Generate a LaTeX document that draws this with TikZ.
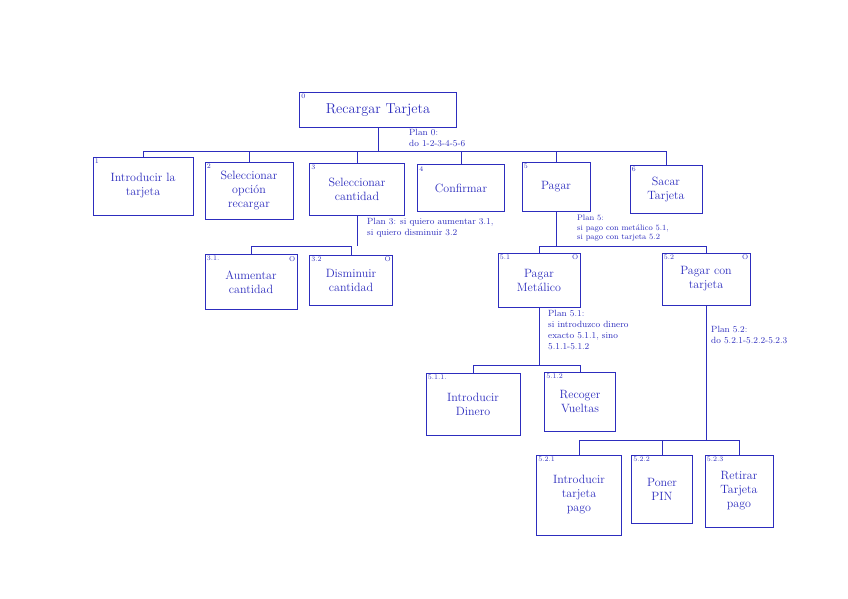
\documentclass[tikz,border=0pt]{standalone}
\usetikzlibrary{positioning}
\definecolor{ink}{RGB}{45,45,190}
\tikzset{
    task/.style = {rectangle, thick, draw=ink, text=ink, align=center, font=\large, inner sep=2pt},
    plan/.style = {anchor=north west, text=ink, align=left, font=\small, inner sep=1pt},
    link/.style = {thick, color=ink},
    num/.style = {anchor=north west, text=ink, font=\scriptsize, inner sep=2pt},
    opt/.style = {anchor=north east, text=ink, font=\scriptsize, inner sep=2pt}
}
\begin{document}
\begin{tikzpicture}[x=1pt,y=-1pt]
\path[fill=white,use as bounding box] (0,0) rectangle (848,599);
%
\node[task, font=\Large, minimum width=157, minimum height=35, label={[num]north west:0}] at (378,110) (n0) {Recargar Tarjeta};
\node[task, minimum width=100, minimum height=58, label={[num]north west:1}] at (143,186) (n1) {Introducir la\\tarjeta};
\node[task, minimum width=88, minimum height=57, label={[num]north west:2}] at (249,191) (n2) {Seleccionar\\opción\\recargar};
\node[task, minimum width=95, minimum height=52, label={[num]north west:3}] at (357,189) (n3) {Seleccionar\\cantidad};
\node[task, minimum width=87, minimum height=47, label={[num]north west:4}] at (461,188) (n4) {Confirmar};
\node[task, minimum width=68, minimum height=49, label={[num]north west:5}] at (556,187) (n5) {Pagar};
\node[task, minimum width=72, minimum height=48, label={[num]north west:6}] at (666,189) (n6) {Sacar\\Tarjeta};
%
\node[task, minimum width=92, minimum height=55, label={[num]north west:3.1.}, label={[opt]north east:O}] at (251,282) (n31) {Aumentar\\cantidad};
\node[task, minimum width=83, minimum height=50, label={[num]north west:3.2}, label={[opt]north east:O}] at (351,280) (n32) {Disminuir\\cantidad};
\node[task, minimum width=82, minimum height=54, label={[num]north west:5.1}, label={[opt]north east:O}] at (539,280) (n51) {Pagar\\Metálico};
\node[task, minimum width=88, minimum height=52, label={[num]north west:5.2}, label={[opt]north east:O}] at (706,279) (n52) {Pagar con\\tarjeta};
%
\node[task, minimum width=94, minimum height=62, label={[num]north west:5.1.1.}] at (473,404) (n511) {Introducir\\Dinero};
\node[task, minimum width=71, minimum height=59, label={[num]north west:5.1.2}] at (580,402) (n512) {Recoger\\Vueltas};
\node[task, minimum width=85, minimum height=80, label={[num]north west:5.2.1}] at (579,495) (n521) {Introducir\\tarjeta\\pago};
\node[task, minimum width=61, minimum height=68, label={[num]north west:5.2.2}] at (662,489) (n522) {Poner\\PIN};
\node[task, minimum width=68, minimum height=72, label={[num]north west:5.2.3}] at (739,491) (n523) {Retirar\\Tarjeta\\pago};
%
\node[plan] at (408,128) (p0) {Plan 0:\\do 1-2-3-4-5-6};
\node[plan] at (366,217) (p3) {Plan 3: si quiero aumentar 3.1,\\si quiero disminuir 3.2};
\node[plan, font=\footnotesize] at (576,214) (p5) {Plan 5:\\si pago con metálico 5.1,\\si pago con tarjeta 5.2};
\node[plan] at (547,309) (p51) {Plan 5.1:\\si introduzco dinero\\exacto 5.1.1, sino\\5.1.1-5.1.2};
\node[plan] at (710,325) (p52) {Plan 5.2:\\do 5.2.1-5.2.2-5.2.3};
%
\coordinate (j0) at (0,151);
\coordinate (j3) at (0,246);
\coordinate (j5) at (0,246);
\coordinate (j51) at (0,365);
\coordinate (j52) at (0,440);
%
\draw[link] (n0.south) -- (n0.south |- j0);
\draw[link] (n1.north |- j0) -- (n6.north |- j0);
\foreach \c in {n1,n2,n3,n4,n5,n6}
  \draw[link] (\c.north |- j0) -- (\c.north);
%
\draw[link] (n3.south) -- (n3.south |- j3);
\draw[link] (n31.north |- j3) -- (n32.north |- j3);
\foreach \c in {n31,n32}
  \draw[link] (\c.north |- j3) -- (\c.north);
%
\draw[link] (n5.south) -- (n5.south |- j5);
\draw[link] (n51.north |- j5) -- (n52.north |- j5);
\foreach \c in {n51,n52}
  \draw[link] (\c.north |- j5) -- (\c.north);
%
\draw[link] (n51.south) -- (n51.south |- j51);
\draw[link] (n511.north |- j51) -- (n512.north |- j51);
\foreach \c in {n511,n512}
  \draw[link] (\c.north |- j51) -- (\c.north);
%
\draw[link] (n52.south) -- (n52.south |- j52);
\draw[link] (n521.north |- j52) -- (n523.north |- j52);
\foreach \c in {n521,n522,n523}
  \draw[link] (\c.north |- j52) -- (\c.north);

\end{tikzpicture}
\end{document}
